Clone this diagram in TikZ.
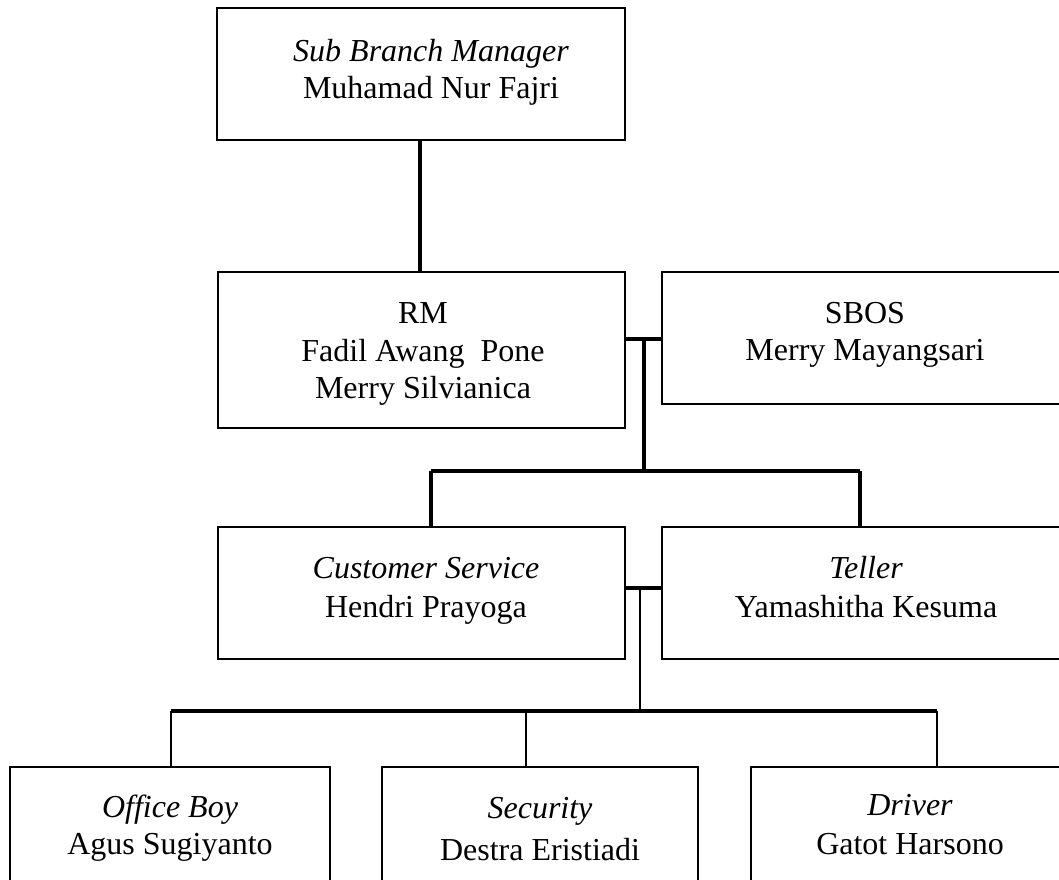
\documentclass[tikz,border=0pt]{standalone}
\usepackage{fontspec}
\setmainfont{Liberation Serif}
\begin{document}
\begin{tikzpicture}[x=1pt,y=-1pt,
  box/.style={draw=black,line width=2.8pt,rectangle,inner sep=0pt},
  txt/.style={anchor=base,inner sep=0pt,font=\fontsize{32}{38}\selectfont},
  thickc/.style={line width=4pt},
  medc/.style={line width=3.4pt},
  thinc/.style={line width=2.2pt}]
\clip (0,0) rectangle (1059,879);
\fill[white] (0,0) rectangle (1059,879);
% boxes
\node[box,minimum width=408pt,minimum height=132pt] (sbm) at (421,74) {};
\node[box,minimum width=407pt,minimum height=156pt] (rm) at (421.5,350) {};
\node[box,minimum width=440pt,minimum height=132pt] (sbos) at (882,338) {};
\node[box,minimum width=407pt,minimum height=132pt] (cs) at (421.5,593) {};
\node[box,minimum width=440pt,minimum height=132pt] (teller) at (882,593) {};
\node[box,minimum width=320pt,minimum height=150pt] (ob) at (170,842) {};
\node[box,minimum width=316pt,minimum height=150pt] (sec) at (540,842) {};
\node[box,minimum width=340pt,minimum height=150pt] (drv) at (921,842) {};
% texts
\node[txt] (sbmA) at (431,61) {\itshape Sub Branch Manager};
\node[txt] (sbmB) at (431,98) {Muhamad Nur Fajri};
\node[txt] (rmA) at (423,323) {RM};
\node[txt] (rmB) at (423,361) {Fadil Awang~~Pone};
\node[txt] (rmC) at (423,398) {Merry Silvianica};
\node[txt] (sbosA) at (865,323) {SBOS};
\node[txt] (sbosB) at (865,360) {Merry Mayangsari};
\node[txt] (csA) at (426,578) {\itshape Customer Service};
\node[txt] (csB) at (426,617) {Hendri Prayoga};
\node[txt] (telA) at (866,578) {\itshape Teller};
\node[txt] (telB) at (866,617) {Yamashitha Kesuma};
\node[txt] (obA) at (170,817) {\itshape Office Boy};
\node[txt] (obB) at (170,854) {Agus Sugiyanto};
\node[txt] (secA) at (540,818) {\itshape Security};
\node[txt] (secB) at (540,860) {Destra Eristiadi};
\node[txt] (drvA) at (910,815) {\itshape Driver};
\node[txt] (drvB) at (910,854) {Gatot Harsono};
% connectors
\coordinate (t0) at (420,140);
\draw[thickc] (t0 |- sbm.south) -- (t0 |- rm.north);
\coordinate (b1) at (644,339);
\coordinate (b2) at (644,471);
\coordinate (c1) at (431,471);
\coordinate (c2) at (860,471);
\draw[thickc] (rm.east |- b1) -- (sbos.west |- b1);
\draw[thickc] (b1) -- (b2);
\draw[medc] (c1) -- (c2);
\draw[medc] (c1) -- (c1 |- cs.north);
\draw[medc] (c2) -- (c2 |- teller.north);
\coordinate (d1) at (640,588);
\coordinate (d2) at (640,711);
\coordinate (e1) at (171,711);
\coordinate (e2) at (526,711);
\coordinate (e3) at (937,711);
\draw[medc] (cs.east |- d1) -- (teller.west |- d1);
\draw[thinc] (d1) -- (d2);
\draw[medc] (e1) -- (e3);
\draw[thinc] (e1) -- (e1 |- ob.north);
\draw[thinc] (e2) -- (e2 |- sec.north);
\draw[thinc] (e3) -- (e3 |- drv.north);
\end{tikzpicture}
\end{document}
